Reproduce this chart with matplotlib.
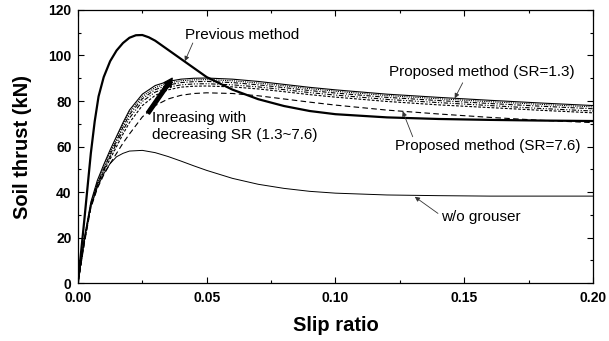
import numpy as np
import matplotlib
matplotlib.use("Agg")
import matplotlib.pyplot as plt

plt.rcParams['font.family'] = ['Liberation Sans', 'DejaVu Sans']

# slip ratio grid used by the proposed curves and w/o grouser
slip = [0, 0.0025, 0.005, 0.0075, 0.01, 0.0125, 0.015, 0.0175, 0.02, 0.025, 0.03,
        0.035, 0.04, 0.045, 0.05, 0.06, 0.07, 0.08, 0.09, 0.10, 0.12, 0.14, 0.16,
        0.18, 0.20]

# proposed method, SR = 1.3 ... 7.6 (top to bottom)
prop_sr13 = [0, 20, 35.5, 45, 52, 58.5, 64.5, 70.5, 76, 83, 86.8, 88.6, 89.6, 90,
             90.1, 89.6, 88.6, 87.3, 86, 84.9, 83, 81.6, 80.3, 79.1, 78]
prop_sr2 = [0, 19.5, 35, 44, 51, 57.5, 63.5, 69.5, 75, 82, 85.9, 87.8, 88.9, 89.3,
            89.4, 88.9, 87.9, 86.7, 85.4, 84.3, 82.4, 81, 79.7, 78.5, 77.4]
prop_sr3 = [0, 19, 34.5, 43.5, 50, 56.5, 62.5, 68.5, 74, 81, 85, 87, 88.1, 88.5,
            88.6, 88.1, 87.1, 85.9, 84.6, 83.5, 81.6, 80.2, 78.9, 77.7, 76.6]
prop_sr4 = [0, 18.5, 34, 43, 49.5, 55.5, 61.5, 67, 72.5, 79.8, 83.9, 86, 87.1,
            87.5, 87.6, 87.1, 86.2, 85, 83.7, 82.6, 80.7, 79.3, 78, 76.7, 75.6]
prop_sr5 = [0, 18, 33.5, 42.5, 49, 54.5, 60, 65.5, 70.5, 78, 82.5, 84.9, 86.1,
            86.5, 86.6, 86.2, 85.3, 84.1, 82.8, 81.7, 79.8, 78.3, 77.1, 75.9, 74.8]
prop_sr76 = [0, 17.5, 33, 41.5, 47.5, 52.5, 57, 61.5, 65.5, 73, 78, 80.9, 82.5,
             83.3, 83.6, 83.3, 82.3, 80.9, 79.5, 78.2, 76, 74.3, 72.8, 71.5, 70.5]

no_grouser = [0, 19, 33.5, 42, 48, 52.5, 55.5, 57, 58, 58.3, 57.3, 55.6, 53.6, 51.5,
              49.5, 46, 43.4, 41.6, 40.3, 39.5, 38.7, 38.4, 38.2, 38.2, 38.2]

# previous method
prev_slip = [0, 0.0025, 0.005, 0.0065, 0.008, 0.01, 0.0125, 0.015, 0.0175, 0.02,
             0.0225, 0.025, 0.0275, 0.03, 0.035, 0.04, 0.045, 0.05, 0.06, 0.07,
             0.08, 0.09, 0.10, 0.12, 0.14, 0.16, 0.18, 0.20]
prev_thrust = [0, 28, 57, 71, 82, 90.5, 97.5, 102.2, 105.5, 107.8, 108.9, 109, 108,
               106.5, 102.5, 98.5, 94.5, 90.5, 85, 80.8, 77.8, 75.6, 74.2, 72.8,
               72.1, 71.7, 71.4, 71.2]

fig = plt.figure(figsize=(6.09, 3.41), dpi=100)
ax = fig.add_axes([0.128, 0.170, 0.8457, 0.8007])

ax.plot(prev_slip, prev_thrust, color='black', lw=1.6)
ax.plot(slip, no_grouser, color='black', lw=0.7)

ax.plot(slip, prop_sr13, color='black', lw=0.8)
ax.plot(slip, prop_sr2, color='black', lw=0.8, dashes=(1, 1))
ax.plot(slip, prop_sr3, color='black', lw=0.8, dashes=(4, 1.5, 1, 1.5))
ax.plot(slip, prop_sr4, color='black', lw=0.8, dashes=(4, 1.5, 1, 1.5, 1, 1.5))
ax.plot(slip, prop_sr5, color='black', lw=0.8, dashes=(2.5, 1.5))
ax.plot(slip, prop_sr76, color='black', lw=0.8, dashes=(5, 3))

ax.set_xlim(0, 0.2)
ax.set_ylim(0, 120)
ax.set_xticks(np.arange(0, 0.2001, 0.05))
ax.set_xticks(np.arange(0, 0.2001, 0.025), minor=True)
ax.set_yticks(np.arange(0, 121, 20))
ax.set_yticks(np.arange(0, 121, 10), minor=True)
ax.xaxis.set_major_formatter(plt.FormatStrFormatter('%.2f'))
ax.tick_params(which='both', direction='in', top=True, right=True, width=0.8)
ax.tick_params(which='major', length=4.5)
ax.tick_params(which='minor', length=2.5)
ax.tick_params(axis='x', pad=6, labelsize=10)
ax.tick_params(axis='y', pad=4.5, labelsize=10)
for lab in ax.get_xticklabels() + ax.get_yticklabels():
    lab.set_fontweight('bold')
for sp in ax.spines.values():
    sp.set_linewidth(0.9)

ax.set_xlabel('Slip ratio', fontsize=14.5, fontweight='bold', labelpad=8)
ax.set_ylabel('Soil thrust (kN)', fontsize=14.5, fontweight='bold', labelpad=12)

thin = dict(arrowstyle='-|>', lw=0.6, color='#333333', mutation_scale=7,
            shrinkA=0, shrinkB=0)

ax.text(0.0415, 109, 'Previous method', fontsize=11, va='center', ha='left')
ax.annotate('', xy=(0.0415, 97.5), xytext=(0.0446, 105.5), arrowprops=thin)

ax.text(0.0287, 68.8, 'Inreasing with\ndecreasing SR (1.3~7.6)', fontsize=11,
        va='center', ha='left', linespacing=1.35)
ax.annotate('', xy=(0.0366, 90), xytext=(0.0272, 74.7),
            arrowprops=dict(facecolor='black', edgecolor='black', width=2.6,
                            headwidth=6, headlength=6, shrink=0))

ax.text(0.1207, 92.7, 'Proposed method (SR=1.3)', fontsize=11, va='center', ha='left')
ax.annotate('', xy=(0.1463, 81.2), xytext=(0.1494, 88), arrowprops=thin)

ax.text(0.123, 60.2, 'Proposed method (SR=7.6)', fontsize=11, va='center', ha='left')
ax.annotate('', xy=(0.1261, 75.5), xytext=(0.130, 64.3), arrowprops=thin)

ax.text(0.1411, 29.2, 'w/o grouser', fontsize=11, va='center', ha='left')
ax.annotate('', xy=(0.1308, 37.9), xytext=(0.1398, 30.6), arrowprops=thin)

fig.savefig('out.png', dpi=100)
